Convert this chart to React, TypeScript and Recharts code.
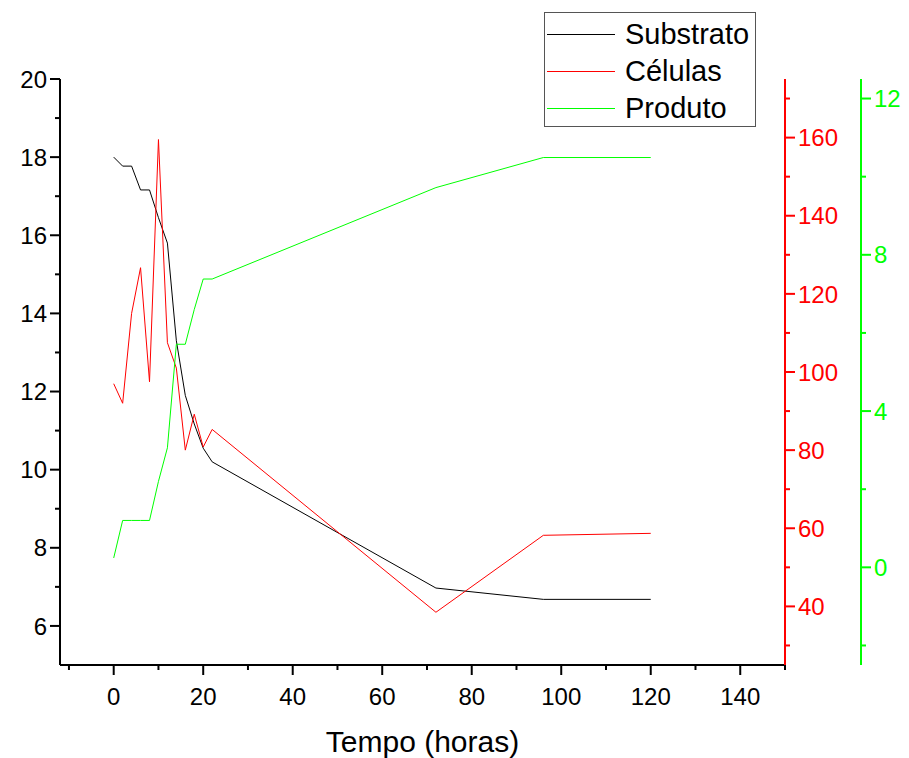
import React from "react";
import { LineChart, Line, XAxis, YAxis } from "recharts";

const FONT = '"Liberation Sans", Arial, sans-serif';

// tempo (horas)
const tempo = [0, 2, 4, 6, 8, 10, 12, 14, 16, 18, 20, 22, 72, 96, 120];
const substrato = [18, 17.77, 17.77, 17.16, 17.16, 16.45, 15.8, 13.3, 11.9, 11.17, 10.55, 10.2, 6.97, 6.68, 6.68];
const celulas = [97, 92, 115, 126.7, 97.5, 159.5, 107.5, 101, 80, 89.2, 80.8, 85.3, 38.5, 58.2, 58.7];
const produto = [0.24, 1.2, 1.2, 1.2, 1.2, 2.2, 3.06, 5.71, 5.71, 6.6, 7.38, 7.38, 9.72, 10.49, 10.49];

const xTicks = [-10, 0, 10, 20, 30, 40, 50, 60, 70, 80, 90, 100, 110, 120, 130, 140, 150];
const xMajor = [0, 20, 40, 60, 80, 100, 120, 140];
const sTicks = [6, 7, 8, 9, 10, 11, 12, 13, 14, 15, 16, 17, 18, 19, 20];
const sMajor = [6, 8, 10, 12, 14, 16, 18, 20];
const cTicks = [30, 40, 50, 60, 70, 80, 90, 100, 110, 120, 130, 140, 150, 160, 170];
const cMajor = [40, 60, 80, 100, 120, 140, 160];
const pTicks = [-2, 0, 2, 4, 6, 8, 10, 12];
const pMajor = [0, 4, 8, 12];

const legendItems = [
  { name: "Substrato", color: "#000000" },
  { name: "Células", color: "#ff0000" },
  { name: "Produto", color: "#00ff00" },
];

const data = tempo.map((t, i) => ({
  t,
  s: substrato[i],
  c: celulas[i],
  p: produto[i],
}));

function makeTick(side: "left" | "right" | "bottom", major: number[], color: string, fontSize: number) {
  return (props: any) => {
    const { x, y, payload } = props;
    const isMajor = major.includes(payload.value);
    const len = isMajor ? 10 : 5;
    if (side === "bottom") {
      return (
        <g>
          <line x1={x} y1={y} x2={x} y2={y + len} stroke={color} strokeWidth={2} />
          {isMajor && (
            <text x={x} y={y + 40} textAnchor="middle" fontSize={fontSize} fill={color} fontFamily={FONT}>
              {payload.value}
            </text>
          )}
        </g>
      );
    }
    const dir = side === "left" ? -1 : 1;
    return (
      <g>
        <line x1={x} y1={y} x2={x + dir * len} y2={y} stroke={color} strokeWidth={2} />
        {isMajor && (
          <text
            x={x + dir * (len + 3)}
            y={y + fontSize * 0.36}
            textAnchor={side === "left" ? "end" : "start"}
            fontSize={fontSize}
            fill={color}
            fontFamily={FONT}
          >
            {payload.value}
          </text>
        )}
      </g>
    );
  };
}

export default function App() {
  return (
    <div style={{ position: "absolute", left: 0, top: 0, width: 909, height: 758, background: "#fff" }}>
      <LineChart width={909} height={758} data={data} margin={{ top: 79, right: 0, bottom: 0, left: 0 }}>
        <XAxis
          dataKey="t"
          type="number"
          domain={[-12, 150]}
          ticks={xTicks}
          interval={0}
          allowDataOverflow
          height={93}
          tickSize={0}
          tickMargin={0}
          axisLine={{ stroke: "#000", strokeWidth: 2 }}
          tick={makeTick("bottom", xMajor, "#000", 24)}
          label={{ value: "Tempo (horas)", position: "insideBottom", offset: 6, fontSize: 30, fill: "#000", fontFamily: FONT }}
        />
        <YAxis
          yAxisId="s"
          domain={[5, 20]}
          ticks={sTicks}
          interval={0}
          allowDataOverflow
          width={60}
          tickSize={0}
          tickMargin={0}
          axisLine={{ stroke: "#000", strokeWidth: 2 }}
          tick={makeTick("left", sMajor, "#000", 24)}
        />
        <YAxis
          yAxisId="c"
          orientation="right"
          domain={[25, 175]}
          ticks={cTicks}
          interval={0}
          allowDataOverflow
          width={76}
          tickSize={0}
          tickMargin={0}
          axisLine={{ stroke: "#ff0000", strokeWidth: 2 }}
          tick={makeTick("right", cMajor, "#ff0000", 24)}
        />
        <YAxis
          yAxisId="p"
          orientation="right"
          domain={[-2.5, 12.5]}
          ticks={pTicks}
          interval={0}
          allowDataOverflow
          width={48}
          tickSize={0}
          tickMargin={0}
          axisLine={{ stroke: "#00ff00", strokeWidth: 2 }}
          tick={makeTick("right", pMajor, "#00ff00", 24)}
        />
        <Line yAxisId="s" dataKey="s" stroke="#000000" strokeWidth={1} dot={false} isAnimationActive={false} />
        <Line yAxisId="c" dataKey="c" stroke="#ff0000" strokeWidth={1} dot={false} isAnimationActive={false} />
        <Line yAxisId="p" dataKey="p" stroke="#00ff00" strokeWidth={1} dot={false} isAnimationActive={false} />
      </LineChart>
      <div
        style={{
          position: "absolute",
          left: 544,
          top: 12,
          width: 212,
          height: 115,
          border: "1px solid #555",
          background: "#fff",
          fontFamily: FONT,
          fontSize: 29,
          boxSizing: "border-box",
        }}
      >
        {legendItems.map((it, i) => (
          <div key={it.name} style={{ position: "absolute", left: 2, top: 4 + i * 37, height: 34, display: "flex", alignItems: "center" }}>
            <div style={{ width: 68, height: 1, background: it.color }} />
            <span style={{ marginLeft: 10, lineHeight: "34px" }}>{it.name}</span>
          </div>
        ))}
      </div>
    </div>
  );
}
